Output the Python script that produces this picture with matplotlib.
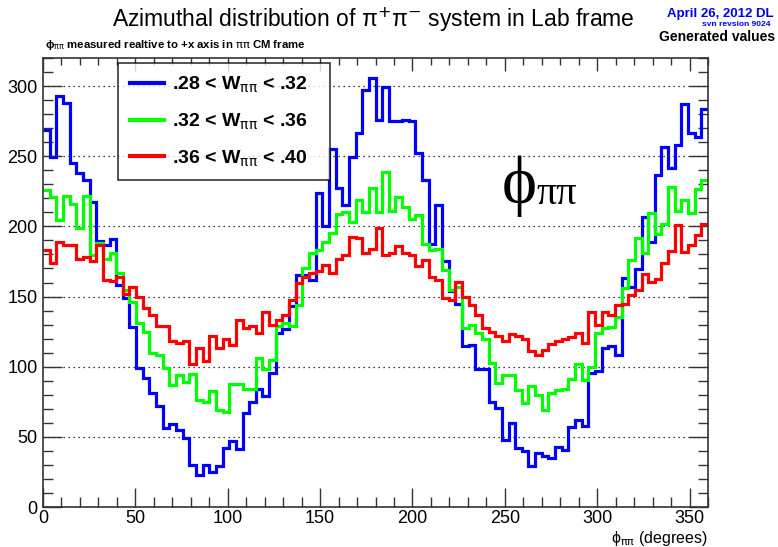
import numpy as np
import matplotlib
matplotlib.use("Agg")
import matplotlib.pyplot as plt
from matplotlib.ticker import MultipleLocator

plt.rcParams['font.family'] = ['Liberation Sans', 'DejaVu Sans']
plt.rcParams['mathtext.fontset'] = 'dejavusans'

# ---- data (bin contents; 100 bins of 3.6 degrees) ----
bin_edges_deg = np.linspace(0, 360, 101)

w_028_032 = [269, 249.5, 293, 288, 245, 238, 233, 217.5, 189.6, 187,
             191, 158, 149, 128, 99, 92, 81, 72, 56, 59,
             55, 49, 30, 23, 30, 25, 29, 42, 47, 41,
             67, 75, 84, 79, 95.5, 124, 127, 143, 165, 165,
             162, 223.5, 200.5, 255, 227, 215, 249.7, 266.8, 297, 305.5,
             276, 299, 275, 275, 276, 275, 252.5, 233, 187.5, 215,
             175, 153.6, 145, 114.5, 115.6, 98, 98, 75, 70.6, 48,
             60, 42, 40, 29, 38.6, 36, 34.7, 42.5, 40.6, 57.2,
             62, 57.7, 95.3, 97.2, 113, 114.8, 108.3, 163, 157, 169.5,
             207, 189, 236.6, 256.8, 241.4, 258, 287, 266.8, 264, 283.4]

w_032_036 = [226, 221, 204.5, 222, 216, 198.6, 221.6, 179.6, 188, 177,
             181, 166.6, 155, 146, 131, 125, 110, 108, 99, 87,
             94, 89, 95, 76, 75, 83, 69, 68, 88, 88,
             84, 84, 106, 98, 105, 129, 131, 129, 144, 170,
             181, 183, 189, 195, 209, 210.5, 203, 218.8, 210.5, 227,
             210.5, 239, 211, 221, 214, 205, 208, 187.5, 183, 183.6,
             169, 154.7, 157, 127.5, 130, 124, 120, 102.6, 88.4, 94.3,
             94.3, 83.6, 74, 86, 80, 69.4, 81, 83.4, 83.8, 91,
             102, 90.5, 100, 124.3, 127.3, 128.5, 135.7, 155.8, 176, 191.5,
             180.8, 209.3, 194.6, 202, 228.3, 211.2, 218.8, 209.3, 226.4, 233]

w_036_040 = [183, 174, 189, 187, 187, 177, 178, 175, 187, 162,
             161, 164, 152, 157, 150, 142, 137, 129, 129, 118,
             117, 118, 102, 113, 104, 121.6, 113, 120, 115.6, 133,
             127.5, 128.7, 124, 139, 130, 133, 137, 147.6, 159.5, 164,
             166.6, 168, 172.5, 166.6, 177, 179.6, 192.7, 192, 181, 184,
             199, 179.6, 181, 186, 181, 179.6, 172, 176, 164, 162,
             148.8, 147.6, 160.7, 149.5, 144, 137, 127.5, 125, 121.6, 118,
             123.5, 122, 120, 111, 108.5, 112, 116, 118, 119.5, 121.4,
             123.8, 116.7, 139.2, 129.7, 139.2, 136.8, 144, 145, 151, 154.7,
             165.8, 160.6, 162.3, 173.7, 182.7, 201, 182, 186.7, 193.9, 201.7]

series_labels = ['.28 < W$_{\\mathrm{\\pi\\pi}}$ < .32',
                 '.32 < W$_{\\mathrm{\\pi\\pi}}$ < .36',
                 '.36 < W$_{\\mathrm{\\pi\\pi}}$ < .40']
series_colors = ['#0000ff', '#00ff00', '#ff0000']

x_ticks = [0, 50, 100, 150, 200, 250, 300, 350]
y_ticks = [0, 50, 100, 150, 200, 250, 300]

# ---- figure ----
W, H = 778, 547
fig = plt.figure(figsize=(W / 100, H / 100), dpi=100)
ax = fig.add_axes([43 / W, 1 - 507 / H, (708 - 43) / W, (507 - 58) / H])

for vals, lab, col in zip([w_028_032, w_032_036, w_036_040], series_labels, series_colors):
    ax.stairs(vals, bin_edges_deg, baseline=None, color=col, linewidth=2.3, label=lab)

ax.set_xlim(0, 360)
ax.set_ylim(0, 320)
ax.set_xticks(x_ticks)
ax.set_yticks(y_ticks)
ax.xaxis.set_minor_locator(MultipleLocator(10))
ax.yaxis.set_minor_locator(MultipleLocator(10))
ax.tick_params(which='major', direction='in', length=14, width=1.0, labelsize=13,
               left=True, right=True, bottom=True, top=False, color='#333333')
ax.tick_params(which='minor', direction='in', length=7, width=1.0,
               left=True, right=True, bottom=True, top=False, color='#333333')
ax.tick_params(axis='x', pad=2)
ax.tick_params(axis='y', pad=4)
sec = ax.secondary_xaxis('top')
sec.set_xticks(x_ticks)
sec.xaxis.set_minor_locator(MultipleLocator(10))
sec.tick_params(which='major', direction='in', length=9, width=1.0, labeltop=False, color='#333333')
sec.tick_params(which='minor', direction='in', length=5, width=1.0, color='#333333')
sec.spines['top'].set_visible(False)

for s in ax.spines.values():
    s.set_linewidth(1.2)
    s.set_color('#333333')

ax.yaxis.grid(True, which='major', linestyle=(0, (1, 3)), color='black', linewidth=0.9)
ax.set_axisbelow(True)

leg = ax.legend(loc='upper left', bbox_to_anchor=(0.113, 0.733, 0.319, 0.256), mode='expand',
                frameon=True, fancybox=False,
                prop={'weight': 'bold', 'size': 14}, handlelength=1.75, handletextpad=0.4,
                labelspacing=0.85, borderpad=0.6, borderaxespad=0.0)
leg.get_frame().set_edgecolor('black')
leg.get_frame().set_linewidth(1.2)
for h in leg.get_lines():
    h.set_linewidth(3)

# big phi label inside plot
ax.text(502 / W, 1 - 203 / H, '\u03d5', transform=fig.transFigure, fontsize=48,
        family=['Liberation Serif', 'DejaVu Serif'], ha='left', va='baseline')
ax.text(536 / W, 1 - 204 / H, '\u03c0\u03c0', transform=fig.transFigure, fontsize=29,
        family=['Liberation Serif', 'DejaVu Serif'], ha='left', va='baseline')

# titles and annotations
fig.text(373 / W, 1 - 20 / H, 'Azimuthal distribution of \u03c0$^{+}$\u03c0$^{-}$ system in Lab frame',
         fontsize=16.5, ha='center', va='center')
fig.text(45 / W, 1 - 45 / H,
         '\u03d5$_{\\mathrm{\\pi\\pi}}$ measured realtive to +x axis in $\\mathrm{\\pi\\pi}$ CM frame',
         fontsize=8.2, fontweight='bold', ha='left', va='center')
fig.text(774 / W, 1 - 14 / H, 'April 26, 2012 DL', color='#0000ee', fontsize=9.5,
         fontweight='bold', ha='right', va='center')
fig.text(771 / W, 1 - 25 / H, 'svn revsion 9024', color='#0000ee', fontsize=6,
         fontweight='bold', ha='right', va='center')
fig.text(775 / W, 1 - 37 / H, 'Generated values', color='black', fontsize=10,
         fontweight='bold', ha='right', va='center')
fig.text(708 / W, 1 - 538 / H, '\u03d5$_{\\mathrm{\\pi\\pi}}$ (degrees)', fontsize=11.5,
         ha='right', va='center')

fig.savefig('out.png', dpi=100)
